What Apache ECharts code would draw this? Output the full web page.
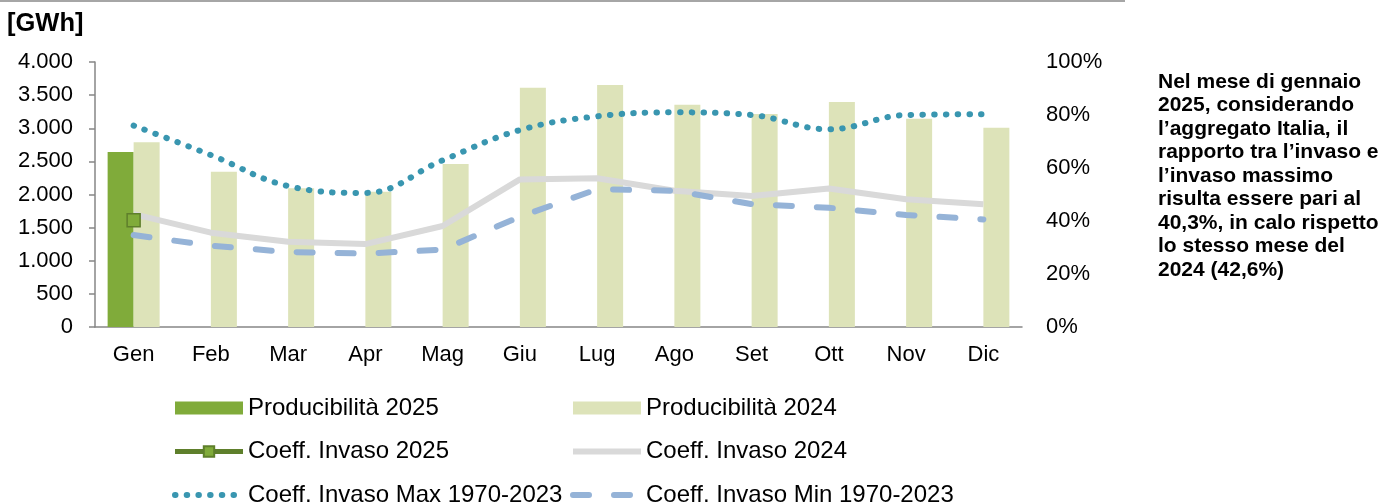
<!DOCTYPE html>
<html>
<head>
<meta charset="utf-8">
<script src="https://cdn.jsdelivr.net/npm/echarts@6/dist/echarts.min.js"></script>
<style>
    html, body { margin: 0; padding: 0; background: #fff; }
    #chart { width: 1386px; height: 504px; }
</style>
</head>
<body>
<div id="chart"></div>
<script>
const months = ['Gen', 'Feb', 'Mar', 'Apr', 'Mag', 'Giu', 'Lug', 'Ago', 'Set', 'Ott', 'Nov', 'Dic'];

// GWh
const prod2025 = [2641, null, null, null, null, null, null, null, null, null, null, null];
const prod2024 = [2788, 2344, 2094, 2042, 2460, 3612, 3653, 3356, 3215, 3396, 3144, 3008];

// %
const invaso2025 = [40.3, null, null, null, null, null, null, null, null, null, null, null];
const invaso2024 = [42.6, 35.6, 32.2, 31.3, 38.1, 55.7, 56.1, 51.4, 49.4, 52.3, 48.2, 46.3];
const invasoMax = [76.0, 64.9, 53.2, 50.6, 62.9, 74.3, 79.5, 81.0, 80.0, 74.6, 80.0, 80.3];
const invasoMin = [34.7, 30.7, 28.3, 27.7, 29.2, 41.6, 52.0, 51.4, 46.4, 45.0, 42.3, 40.6];

const noteLines = [
    'Nel mese di gennaio',
    '2025, considerando',
    'l\u2019aggregato Italia, il',
    'rapporto tra l\u2019invaso e',
    'l\u2019invaso massimo',
    'risulta essere pari al',
    '40,3%, in calo rispetto',
    'lo stesso mese del',
    '2024 (42,6%)'
];

const FONT = 'Liberation Sans, Arial, sans-serif';
const axisGrey = '#868686';

function thousands(v) {
    return String(v).replace(/\B(?=(\d{3})+(?!\d))/g, '.');
}

const chart = echarts.init(document.getElementById('chart'));

const legendText = { fontFamily: FONT, fontSize: 24, color: '#000', lineHeight: 24 };
// line series without symbol: hide the circle ECharts puts in the legend icon
const noDot = { opacity: 0 };

chart.setOption({
    animation: false,
    grid: { left: 95, right: 364, top: 62, bottom: 177 },
    graphic: [
        {
            type: 'line',
            shape: { x1: 0, y1: 1, x2: 1125, y2: 1 },
            style: { stroke: '#a6a6a6', lineWidth: 2 }
        },
        {
            type: 'text',
            left: 7, top: 11,
            style: { text: '[GWh]', font: 'bold 25.5px ' + FONT, fill: '#000' }
        },
        {
            type: 'text',
            left: 1158, top: 70,
            style: {
                text: noteLines.join('\n'),
                font: 'bold 21px ' + FONT,
                lineHeight: 23.5,
                fill: '#000'
            }
        }
    ],
    legend: [
        {
            orient: 'vertical',
            left: 172, top: 396, height: 140, padding: 0,
            itemWidth: 68, itemHeight: 13, itemGap: 19.5,
            selectedMode: false,
            textStyle: legendText,
            data: [
                { name: 'Producibilità 2025', icon: 'rect' },
                { name: 'Coeff. Invaso 2025', lineStyle: { width: 5 } },
                { name: 'Coeff. Invaso Max 1970-2023', lineStyle: { width: 6 }, itemStyle: noDot }
            ]
        },
        {
            orient: 'vertical',
            left: 570, top: 396, height: 140, padding: 0,
            itemWidth: 68, itemHeight: 13, itemGap: 19.5,
            selectedMode: false,
            textStyle: legendText,
            data: [
                { name: 'Producibilità 2024', icon: 'rect' },
                { name: 'Coeff. Invaso 2024', lineStyle: { width: 6 }, itemStyle: noDot },
                { name: 'Coeff. Invaso Min 1970-2023', lineStyle: { width: 6 }, itemStyle: noDot }
            ]
        }
    ],
    xAxis: {
        type: 'category',
        data: months,
        axisLine: { lineStyle: { color: axisGrey, width: 1.5 } },
        axisTick: { length: 8, lineStyle: { color: axisGrey, width: 1.5 } },
        axisLabel: { fontFamily: FONT, fontSize: 22, color: '#000', margin: 17 }
    },
    yAxis: [
        {
            type: 'value',
            min: 0, max: 4000, interval: 500,
            splitLine: { show: false },
            axisLine: { show: true, lineStyle: { color: axisGrey, width: 1.5 } },
            axisTick: { show: true, length: 6, lineStyle: { color: axisGrey, width: 1.5 } },
            axisLabel: {
                fontFamily: FONT, fontSize: 22, color: '#000', margin: 22,
                formatter: v => thousands(v)
            }
        },
        {
            type: 'value',
            min: 0, max: 100, interval: 20,
            splitLine: { show: false },
            axisLine: { show: false },
            axisTick: { show: false },
            axisLabel: {
                fontFamily: FONT, fontSize: 22, color: '#000', margin: 24,
                formatter: '{value}%'
            }
        }
    ],
    series: [
        {
            name: 'Producibilità 2025',
            type: 'bar',
            data: prod2025,
            barWidth: 26,
            barGap: '0%',
            itemStyle: { color: '#80AB3A' }
        },
        {
            name: 'Producibilità 2024',
            type: 'bar',
            data: prod2024,
            barWidth: 26,
            itemStyle: { color: '#DDE3B9' }
        },
        {
            name: 'Coeff. Invaso 2024',
            type: 'line',
            yAxisIndex: 1,
            data: invaso2024,
            symbol: 'none',
            lineStyle: { color: '#D9D9D9', width: 6 },
            itemStyle: { color: '#D9D9D9' }
        },
        {
            name: 'Coeff. Invaso Min 1970-2023',
            type: 'line',
            yAxisIndex: 1,
            data: invasoMin,
            symbol: 'none',
            lineStyle: { color: '#95B3D7', width: 6, type: [16, 25], cap: 'round' },
            itemStyle: { color: '#95B3D7' }
        },
        {
            name: 'Coeff. Invaso Max 1970-2023',
            type: 'line',
            yAxisIndex: 1,
            data: invasoMax,
            symbol: 'none',
            smooth: 0.4,
            lineStyle: { color: '#3996B0', width: 6, type: [0.5, 11.2], cap: 'round' },
            itemStyle: { color: '#3996B0' }
        },
        {
            name: 'Coeff. Invaso 2025',
            type: 'line',
            yAxisIndex: 1,
            data: invaso2025,
            symbol: 'rect',
            symbolSize: 13,
            lineStyle: { color: '#5E7F2B', width: 5 },
            itemStyle: { color: '#80AB3A', borderColor: '#5E7F2B', borderWidth: 1.5 }
        }
    ]
});
</script>
</body>
</html>
